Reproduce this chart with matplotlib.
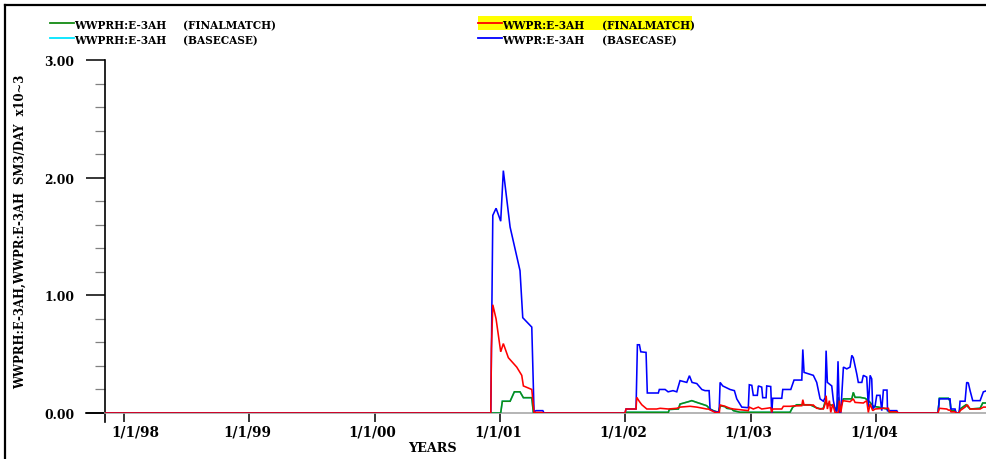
import matplotlib
matplotlib.use("Agg")
import matplotlib.pyplot as plt
from matplotlib.lines import Line2D
from matplotlib.patches import Rectangle
from matplotlib.transforms import ScaledTranslation
import numpy as np

plt.rcParams["font.family"] = ["DejaVu Serif", "Liberation Serif"]
plt.rcParams["font.weight"] = "bold"

# ---- data: (decimal year, rate) ----
WWPR_BASECASE = [
    (1997.848, 0), (2000.927, 0), (2000.943, 1.68), (2000.969, 1.74), (2001.006, 1.63),
    (2001.027, 2.06), (2001.081, 1.58), (2001.160, 1.21), (2001.182, 0.81), (2001.254, 0.73),
    (2001.272, 0.01), (2001.288, 0.02), (2001.342, 0.02), (2001.352, 0), (2001.998, 0),
    (2002.006, 0.034), (2002.086, 0.034), (2002.097, 0.58), (2002.113, 0.58), (2002.124, 0.52),
    (2002.166, 0.515), (2002.176, 0.17), (2002.264, 0.17), (2002.272, 0.20), (2002.318, 0.20),
    (2002.342, 0.18), (2002.381, 0.19), (2002.411, 0.18), (2002.437, 0.275), (2002.491, 0.26),
    (2002.512, 0.317), (2002.533, 0.26), (2002.571, 0.25), (2002.611, 0.20), (2002.637, 0.19),
    (2002.669, 0.19), (2002.677, 0.03), (2002.717, 0.01), (2002.749, 0.01), (2002.757, 0.26),
    (2002.778, 0.23), (2002.836, 0.20), (2002.871, 0.19), (2002.890, 0.12), (2002.930, 0.05),
    (2002.982, 0.045), (2002.990, 0.24), (2003.010, 0.235), (2003.022, 0.15), (2003.054, 0.15),
    (2003.062, 0.23), (2003.089, 0.22), (2003.097, 0.13), (2003.124, 0.13), (2003.129, 0.23),
    (2003.161, 0.225), (2003.169, 0.0), (2003.177, 0.125), (2003.249, 0.125), (2003.257, 0.20),
    (2003.321, 0.20), (2003.347, 0.28), (2003.409, 0.28), (2003.417, 0.54), (2003.427, 0.345),
    (2003.501, 0.32), (2003.528, 0.26), (2003.555, 0.12), (2003.581, 0.10), (2003.595, 0.13),
    (2003.603, 0.53), (2003.613, 0.26), (2003.648, 0.23), (2003.661, 0.105), (2003.674, 0.035),
    (2003.688, 0.005), (2003.698, 0.44), (2003.709, 0.005), (2003.720, 0.005), (2003.741, 0.39),
    (2003.768, 0.375), (2003.794, 0.39), (2003.808, 0.49), (2003.820, 0.47), (2003.834, 0.40),
    (2003.848, 0.33), (2003.860, 0.26), (2003.888, 0.26), (2003.900, 0.32), (2003.927, 0.305),
    (2003.940, 0.05), (2003.954, 0.32), (2003.967, 0.29), (2003.975, 0.035), (2003.994, 0.06),
    (2004.007, 0.15), (2004.033, 0.15), (2004.047, 0.02), (2004.060, 0.195), (2004.089, 0.195),
    (2004.093, 0.02), (2004.167, 0.02), (2004.177, 0), (2004.496, 0), (2004.507, 0.12),
    (2004.592, 0.12), (2004.598, 0.034), (2004.632, 0.034), (2004.640, 0), (2004.664, 0),
    (2004.672, 0.10), (2004.712, 0.10), (2004.725, 0.26), (2004.738, 0.255), (2004.752, 0.19),
    (2004.773, 0.105), (2004.832, 0.105), (2004.858, 0.18), (2004.887, 0.19),
]

WWPR_FINALMATCH = [
    (1997.848, 0), (2000.927, 0), (2000.932, 0.55), (2000.943, 0.92), (2000.969, 0.80),
    (2001.006, 0.52), (2001.027, 0.59), (2001.067, 0.47), (2001.134, 0.39), (2001.174, 0.32),
    (2001.187, 0.23), (2001.254, 0.20), (2001.272, 0.005), (2001.336, 0.005), (2001.342, 0),
    (2001.998, 0), (2002.006, 0.034), (2002.086, 0.034), (2002.092, 0.133), (2002.105, 0.11),
    (2002.118, 0.09), (2002.132, 0.07), (2002.172, 0.034), (2002.251, 0.034), (2002.278, 0.04),
    (2002.344, 0.034), (2002.411, 0.04), (2002.437, 0.05), (2002.517, 0.057), (2002.571, 0.05),
    (2002.650, 0.034), (2002.663, 0.034), (2002.717, 0.005), (2002.751, 0.005), (2002.757, 0.068),
    (2002.796, 0.057), (2002.836, 0.04), (2002.863, 0.034), (2002.916, 0.028), (2002.982, 0.02),
    (2002.990, 0.05), (2003.022, 0.034), (2003.062, 0.05), (2003.089, 0.034), (2003.129, 0.04),
    (2003.161, 0.045), (2003.169, 0.005), (2003.177, 0.034), (2003.249, 0.034), (2003.262, 0.057),
    (2003.315, 0.057), (2003.342, 0.06), (2003.409, 0.062), (2003.417, 0.113), (2003.427, 0.068),
    (2003.501, 0.068), (2003.528, 0.04), (2003.581, 0.034), (2003.595, 0.076), (2003.603, 0.147),
    (2003.613, 0.034), (2003.629, 0.105), (2003.640, 0.005), (2003.656, 0.076), (2003.674, 0.005),
    (2003.701, 0.005), (2003.709, 0.105), (2003.720, 0.005), (2003.736, 0.105), (2003.794, 0.096),
    (2003.820, 0.12), (2003.834, 0.09), (2003.900, 0.085), (2003.927, 0.105), (2003.940, 0.005),
    (2003.954, 0.076), (2003.975, 0.02), (2003.994, 0.034), (2004.060, 0.04), (2004.100, 0.04),
    (2004.108, 0.01), (2004.167, 0.01), (2004.177, 0), (2004.496, 0), (2004.507, 0.04),
    (2004.566, 0.034), (2004.579, 0.025), (2004.592, 0.025), (2004.600, 0.01), (2004.632, 0.01),
    (2004.640, 0), (2004.664, 0), (2004.672, 0.02), (2004.712, 0.05), (2004.730, 0.07),
    (2004.752, 0.034), (2004.832, 0.034), (2004.858, 0.05), (2004.887, 0.05),
]

WWPRH_FINALMATCH = [
    (1997.848, 0), (2001.006, 0), (2001.019, 0.10), (2001.081, 0.10), (2001.115, 0.18),
    (2001.160, 0.18), (2001.187, 0.13), (2001.254, 0.13), (2001.267, 0), (2001.998, 0),
    (2002.006, 0.006), (2002.344, 0.006), (2002.352, 0.03), (2002.424, 0.034), (2002.437, 0.076),
    (2002.504, 0.096), (2002.531, 0.105), (2002.571, 0.09), (2002.611, 0.076), (2002.650, 0.062),
    (2002.677, 0.034), (2002.703, 0.02), (2002.743, 0.006), (2002.757, 0.062), (2002.796, 0.054),
    (2002.810, 0.04), (2002.850, 0.034), (2002.863, 0.02), (2002.916, 0.006), (2003.315, 0.006),
    (2003.337, 0.05), (2003.369, 0.07), (2003.475, 0.07), (2003.515, 0.05), (2003.555, 0.034),
    (2003.581, 0.04), (2003.595, 0.096), (2003.613, 0.076), (2003.661, 0.062), (2003.688, 0.02),
    (2003.701, 0.133), (2003.714, 0.034), (2003.741, 0.12), (2003.808, 0.12), (2003.820, 0.175),
    (2003.834, 0.133), (2003.874, 0.133), (2003.914, 0.125), (2003.940, 0.105), (2003.954, 0.09),
    (2003.980, 0.057), (2004.020, 0.05), (2004.087, 0.034), (2004.113, 0), (2004.496, 0),
    (2004.507, 0.125), (2004.579, 0.125), (2004.592, 0.10), (2004.600, 0.02), (2004.632, 0.02),
    (2004.640, 0), (2004.664, 0), (2004.672, 0.034), (2004.720, 0.07), (2004.752, 0.034),
    (2004.832, 0.04), (2004.853, 0.085), (2004.887, 0.085),
]

# historical rate is the same observed series in both runs
WWPRH_BASECASE = list(WWPRH_FINALMATCH)

YEAR_TICKS = [1998, 1999, 2000, 2001, 2002, 2003, 2004]
YEAR_LABELS = ["1/1/98", "1/1/99", "1/1/00", "1/1/01", "1/1/02", "1/1/03", "1/1/04"]
RATE_TICKS = [0, 1, 2, 3]
RATE_LABELS = ["0.00", "1.00", "2.00", "3.00"]

W, H = 987, 460
fig = plt.figure(figsize=(W / 100, H / 100), dpi=100)
fig.patch.set_facecolor("white")


def fx(px):
    return px / W


def fy(py):
    return 1 - py / H


ax = fig.add_axes([fx(105), 46 / H, 882 / W, 353 / H])
X0, X1 = 1997.848, 2004.887
ax.set_xlim(X0, X1)
ax.set_ylim(0, 3.0)
ax.set_facecolor("none")

# curves
series = [
    (WWPRH_BASECASE, "#00e5ff"),
    (WWPRH_FINALMATCH, "#138a13"),
    (WWPR_BASECASE, "#0000ff"),
    (WWPR_FINALMATCH, "#ff0000"),
]
for pts, col in series:
    t = [p[0] for p in pts]
    v = [p[1] for p in pts]
    ax.plot(t, v, color=col, lw=1.15, solid_joinstyle="miter", zorder=3)

# axes lines
for s in ("top", "right"):
    ax.spines[s].set_visible(False)
ax.spines["left"].set_color("black")
ax.spines["left"].set_linewidth(1.2)
ax.spines["left"].set_bounds(-0.0765, 3.0)
ax.spines["bottom"].set_color("#a8a8a8")
ax.spines["bottom"].set_linewidth(1.2)
ax.spines["bottom"].set_bounds(X0, X1)
ax.spines["left"].set_zorder(2)
ax.spines["bottom"].set_zorder(2)
ax.plot([1997.697, X0], [0, 0], color="black", lw=1.2, clip_on=False, zorder=2)

# y ticks
ax.set_yticks(RATE_TICKS)
ax.set_yticklabels(RATE_LABELS)
ax.set_yticks(np.arange(0, 3.01, 0.2), minor=True)
ax.tick_params(axis="y", which="major", length=13.7, width=1.1, color="black",
               pad=8.6, labelsize=8.8)
ax.tick_params(axis="y", which="minor", length=7.2, width=0.9, color="#808080")

# x ticks
ax.set_xticks(YEAR_TICKS)
ax.set_xticklabels(YEAR_LABELS)
ax.tick_params(axis="x", which="major", length=6.5, width=1.1, color="black",
               pad=1.8, labelsize=9.8, direction="out")
for i, lbl in enumerate(ax.get_xticklabels()):
    dx = 11.5 if i == 0 else -2.0
    lbl.set_transform(lbl.get_transform() + ScaledTranslation(dx / 100, 0, fig.dpi_scale_trans))

fig.text(fx(432), fy(449), "YEARS", ha="center", va="center", fontsize=9.2)
fig.text(fx(20.5), fy(231.5), "WWPRH:E-3AH,WWPR:E-3AH  SM3/DAY  x10~3",
         rotation=90, ha="center", va="center", fontsize=8.4)

# frame
fig.add_artist(Line2D([fx(5.5), 1.0], [fy(5.5), fy(5.5)], color="black", lw=1.6))
fig.add_artist(Line2D([fx(5.5), fx(5.5)], [fy(5.5), 0.0], color="black", lw=1.6))

# legend
fig.add_artist(Rectangle((fx(478), fy(31)), 214 / W, 14 / H, facecolor="#ffff00",
                         edgecolor="none", transform=fig.transFigure, zorder=0))
legend_rows = [
    (50, 24, 29, "#138a13", "WWPRH:E-3AH", 183, "(FINALMATCH)"),
    (50, 39, 44, "#00e5ff", "WWPRH:E-3AH", 183, "(BASECASE)"),
    (478, 24, 29, "#ff0000", "WWPR:E-3AH", 602, "(FINALMATCH)"),
    (478, 39, 44, "#0000ff", "WWPR:E-3AH", 602, "(BASECASE)"),
]
for x0, y0, yb, col, name, xc, case in legend_rows:
    fig.add_artist(Line2D([fx(x0), fx(x0 + 24)], [fy(y0), fy(y0)], color=col, lw=1.3))
    fig.text(fx(x0 + 24), fy(yb), name, ha="left", va="baseline", fontsize=7.6)
    fig.text(fx(xc), fy(yb), case, ha="left", va="baseline", fontsize=7.6)

fig.savefig("out.png", dpi=100)
